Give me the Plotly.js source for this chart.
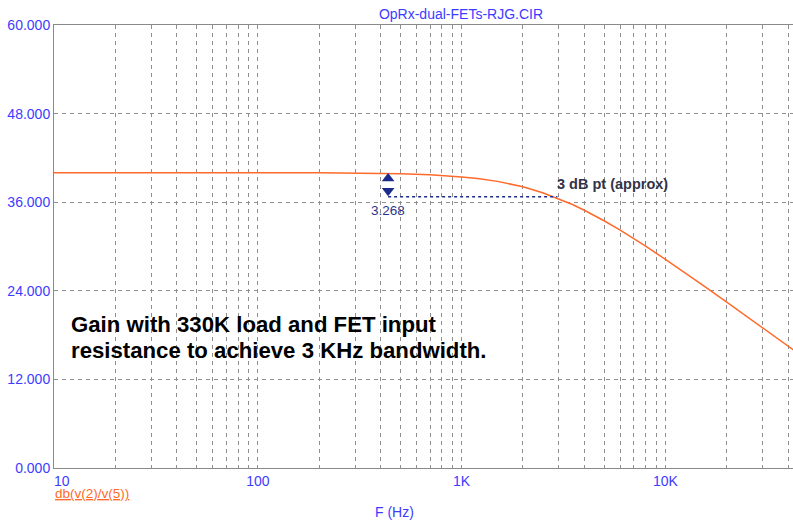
<!DOCTYPE html>
<html><head><meta charset="utf-8">
<script src="https://cdn.plot.ly/plotly-3.0.1.min.js"></script>
<style>html,body{margin:0;padding:0;background:#fff}#chart{width:793px;height:520px}</style>
</head><body><div id="chart"></div>
<script>
// Frequency response
const freqHz = [10, 20, 50, 100, 200, 500, 700, 1000, 1200, 1500, 2000, 2500, 3000, 3500, 4000, 5000, 6000, 7000, 8000, 10000, 12000, 15000, 20000, 25000, 30000, 35000, 42500];
const gainDb = [40.0, 40.0, 40.0, 39.99, 39.98, 39.85, 39.71, 39.43, 39.21, 38.82, 38.08, 37.28, 36.47, 35.68, 34.91, 33.49, 32.21, 31.07, 30.04, 28.26, 26.77, 24.90, 22.47, 20.56, 18.99, 17.66, 15.98];

const xTickVals = [10, 100, 1000, 10000];
const xTickText = ['\u00a0\u00a0\u00a0\u00a010', '100', '1K', '10K'];
const yTickVals = [0, 12, 24, 36, 48, 60];
const yTickText = ['0.000', '12.000', '24.000', '36.000', '48.000', '60.000'];

// Marker (delta cursor) values
const markerFreq = 436;
const markerRefDb = 40.0;
const markerDelta = 3.268;
const markerEndFreq = 2950;

const chartTitle = 'OpRx-dual-FETs-RJG.CIR';
const traceName = 'db(v(2)/v(5))';
const xTitle = 'F (Hz)';
const noteLine1 = 'Gain with 330K load and FET input';
const noteLine2 = 'resistance to achieve 3 KHz bandwidth.';
const pointNote = '3 dB pt (approx)';

// layout geometry helpers (pixels -> paper)
const L = 54, R = 793, T = 25, B = 468;
const px = x => (x - L) / (R - L);
const py = y => (B - y) / (B - T);

const minorVals = [];
for (let d = 10; d <= 10000; d *= 10) for (let k = 2; k <= 9; k++) minorVals.push(k * d);

const blue = '#3c3cff';
const navy = '#1c2a8c';
const grid = '#8f8f8f';
const font = 'Liberation Sans, Arial, sans-serif';

const yMark = markerRefDb - markerDelta;

const traces = [
  {x: freqHz, y: gainDb, type: 'scatter', mode: 'lines',
   line: {color: '#ff6a2a', width: 1.5}, hoverinfo: 'skip'},
  {x: [markerFreq, markerEndFreq], y: [yMark, yMark], type: 'scatter', mode: 'lines',
   line: {color: navy, width: 1.5, dash: '3px,3px'}, hoverinfo: 'skip'},
  {x: [markerFreq, markerFreq], y: [markerRefDb - 0.8, yMark + 0.82], type: 'scatter', mode: 'markers',
   marker: {symbol: ['triangle-up', 'triangle-down'], size: 11, color: navy, line: {width: 0}}, hoverinfo: 'skip'}
];

const layout = {
  width: 793, height: 520,
  margin: {l: L, r: 793 - R, t: T, b: 520 - B, pad: 0},
  paper_bgcolor: '#fff', plot_bgcolor: '#fff',
  showlegend: false,
  font: {family: font, size: 14, color: blue},
  title: {text: chartTitle, font: {family: font, size: 14, color: blue},
          x: 461 / 793, xanchor: 'center', xref: 'container', y: 1 - 14 / 520, yanchor: 'middle', yref: 'container'},
  xaxis: {
    type: 'log', range: [1, 1 + (R - L) / 203.8],
    tickmode: 'array', tickvals: xTickVals, ticktext: xTickText,
    ticks: '', showgrid: true, gridcolor: grid, griddash: '4px,4px', gridwidth: 1,
    minor: {tickmode: 'array', tickvals: minorVals, showgrid: true, gridcolor: grid, griddash: '4px,4px', gridwidth: 1, ticks: ''},
    showline: true, linecolor: '#8a8a8a', linewidth: 1, mirror: true,
    zeroline: false,
    tickfont: {family: font, size: 14, color: blue}
  },
  yaxis: {
    range: [0, 60], tickmode: 'array', tickvals: yTickVals, ticktext: yTickText,
    ticks: '', showgrid: true, gridcolor: grid, griddash: '4px,4px', gridwidth: 1,
    showline: true, linecolor: '#8a8a8a', linewidth: 1,
    zeroline: false,
    tickfont: {family: font, size: 14, color: blue}
  },
  annotations: [
    {xref: 'paper', yref: 'paper', x: px(394), y: 0, yshift: -(511.5 - B), xanchor: 'center', yanchor: 'middle',
     text: xTitle, showarrow: false, font: {family: font, size: 14, color: blue}},
    {xref: 'paper', yref: 'paper', x: px(53), y: 0, yshift: -(493 - B), xanchor: 'left', yanchor: 'middle',
     text: '<u>' + traceName + '</u>', showarrow: false, font: {family: font, size: 13.5, color: '#ff6a2a'}},
    {xref: 'paper', yref: 'paper', x: px(69), y: py(324), xanchor: 'left', yanchor: 'middle',
     text: '<b>' + noteLine1 + '</b>', showarrow: false, font: {family: font, size: 22.2, color: '#000'}},
    {xref: 'paper', yref: 'paper', x: px(69), y: py(351), xanchor: 'left', yanchor: 'middle',
     text: '<b>' + noteLine2 + '</b>', showarrow: false, font: {family: font, size: 22.2, color: '#000'}},
    {xref: 'paper', yref: 'paper', x: px(555), y: py(184), xanchor: 'left', yanchor: 'middle',
     text: '<b>' + pointNote + '</b>', showarrow: false, font: {family: font, size: 14.5, color: '#333348'}},
    {xref: 'x', yref: 'y', x: Math.log10(markerFreq), y: yMark, yshift: -14, xanchor: 'center', yanchor: 'middle',
     text: markerDelta.toFixed(3), showarrow: false, font: {family: font, size: 13.5, color: '#2b3590'}}
  ]
};

Plotly.newPlot('chart', traces, layout, {displayModeBar: false, staticPlot: true});
</script>
</body></html>
